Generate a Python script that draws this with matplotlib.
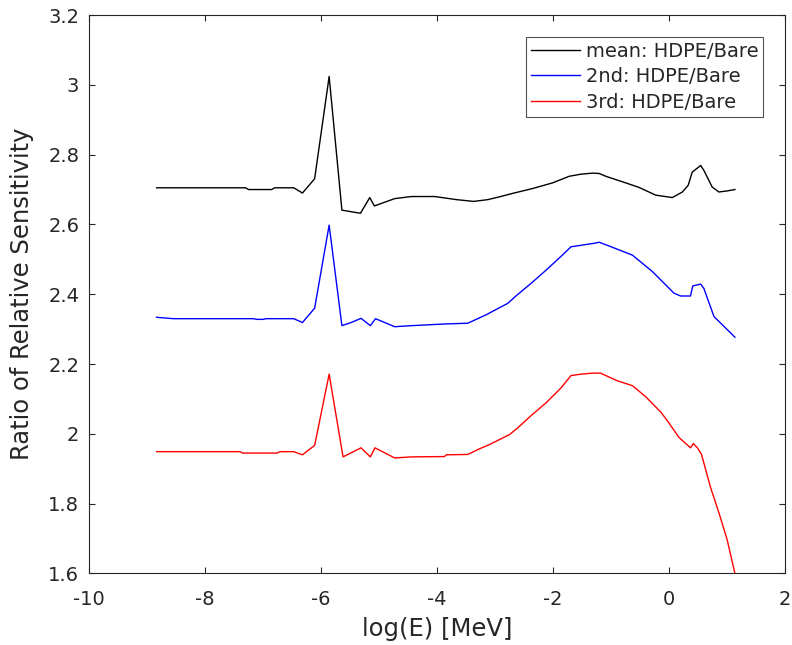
import matplotlib
matplotlib.use("Agg")
import matplotlib.pyplot as plt
from matplotlib.ticker import FuncFormatter

plt.rcParams['axes.unicode_minus'] = False
plt.rcParams['font.family'] = ['DejaVu Sans']

mean_x = [-8.835, -7.30, -7.25, -6.85, -6.80, -6.47, -6.32, -6.11, -5.86, -5.64, -5.32, -5.16,
          -5.08, -4.73, -4.44, -4.04, -3.66, -3.37, -3.127, -2.926, -2.696, -2.35, -2.01, -1.72,
          -1.52, -1.32, -1.205, -1.09, -0.745, -0.516, -0.23, 0.057, 0.23, 0.33, 0.40, 0.546,
          0.60, 0.745, 0.86, 1.00, 1.136]
mean_y = [2.705, 2.705, 2.700, 2.700, 2.705, 2.705, 2.690, 2.731, 3.024, 2.641, 2.632, 2.677,
          2.653, 2.674, 2.680, 2.680, 2.671, 2.666, 2.671, 2.679, 2.689, 2.703, 2.719, 2.738,
          2.744, 2.747, 2.746, 2.738, 2.719, 2.706, 2.684, 2.677, 2.693, 2.712, 2.750, 2.769,
          2.755, 2.707, 2.693, 2.696, 2.700]

second_x = [-8.835, -8.55, -7.17, -7.10, -7.00, -6.95, -6.47, -6.32, -6.11, -5.86, -5.64, -5.48,
            -5.31, -5.15, -5.06, -4.73, -4.44, -3.84, -3.47, -3.155, -2.78, -2.64, -2.38,
            -2.12, -1.84, -1.69, -1.49, -1.29, -1.205, -1.03, -0.63, -0.287, 0.086, 0.20, 0.37,
            0.41, 0.546, 0.60, 0.775, 0.83, 1.136]
second_y = [2.334, 2.330, 2.330, 2.328, 2.328, 2.330, 2.330, 2.319, 2.360, 2.598, 2.310, 2.319,
            2.331, 2.310, 2.330, 2.307, 2.310, 2.315, 2.317, 2.341, 2.374, 2.395, 2.431,
            2.469, 2.512, 2.536, 2.541, 2.546, 2.549, 2.538, 2.512, 2.465, 2.403, 2.395, 2.395,
            2.424, 2.429, 2.417, 2.336, 2.327, 2.277]

third_x = [-8.835, -7.40, -7.35, -6.76, -6.70, -6.47, -6.32, -6.11, -5.86, -5.62, -5.31, -5.15,
           -5.07, -4.73, -4.44, -3.87, -3.84, -3.47, -3.27, -3.10, -2.75, -2.61, -2.38, -2.12,
           -1.866, -1.69, -1.52, -1.32, -1.18, -1.09, -0.89, -0.63, -0.40, -0.14, 0.0, 0.17,
           0.37, 0.42, 0.49, 0.56, 0.717, 0.86, 1.00, 1.136]
third_y = [1.949, 1.949, 1.945, 1.945, 1.949, 1.949, 1.940, 1.967, 2.171, 1.934, 1.960, 1.934,
           1.960, 1.931, 1.934, 1.935, 1.940, 1.941, 1.957, 1.969, 1.998, 2.017, 2.052, 2.089,
           2.131, 2.167, 2.171, 2.174, 2.174, 2.167, 2.152, 2.138, 2.106, 2.062, 2.031, 1.990,
           1.960, 1.972, 1.960, 1.941, 1.846, 1.774, 1.698, 1.600]

labels = ['mean: HDPE/Bare', '2nd: HDPE/Bare', '3rd: HDPE/Bare']
x_ticks = [-10, -8, -6, -4, -2, 0, 2]
y_ticks = [1.6, 1.8, 2.0, 2.2, 2.4, 2.6, 2.8, 3.0, 3.2]

gray = '#262626'
fig = plt.figure(figsize=(7.92, 6.45), dpi=100)
ax = fig.add_axes([0.1124, 0.1109, 0.8788, 0.8658])

ax.plot(mean_x, mean_y, color='black', lw=1.0, label=labels[0])
ax.plot(second_x, second_y, color='#0000ff', lw=1.0, label=labels[1])
ax.plot(third_x, third_y, color='#ff0000', lw=1.0, label=labels[2])

ax.set_xlim(-10, 2)
ax.set_ylim(1.6, 3.2)
ax.set_xticks(x_ticks)
ax.set_yticks(y_ticks)
ax.yaxis.set_major_formatter(FuncFormatter(lambda v, p: ('%g' % round(v, 2))))
ax.tick_params(direction='in', length=4.5, width=0.8, colors=gray, labelsize=14,
               top=True, right=True)
ax.tick_params(axis='x', pad=12)
ax.tick_params(axis='y', pad=7)
for s in ax.spines.values():
    s.set_color(gray)
    s.set_linewidth(0.8)

ax.set_xlabel('log(E) [MeV]', fontsize=17.5, color=gray, labelpad=6)
ax.set_ylabel('Ratio of Relative Sensitivity', fontsize=17.5, color=gray, labelpad=10)

leg = ax.legend(loc='upper right', fontsize=14, frameon=True, fancybox=False,
                edgecolor=gray, borderaxespad=1.13, handlelength=2.5, labelspacing=0.33,
                borderpad=0.25, handletextpad=0.3)
leg.get_frame().set_linewidth(0.8)
for t in leg.get_texts():
    t.set_color(gray)

fig.savefig('out.png', dpi=100)
